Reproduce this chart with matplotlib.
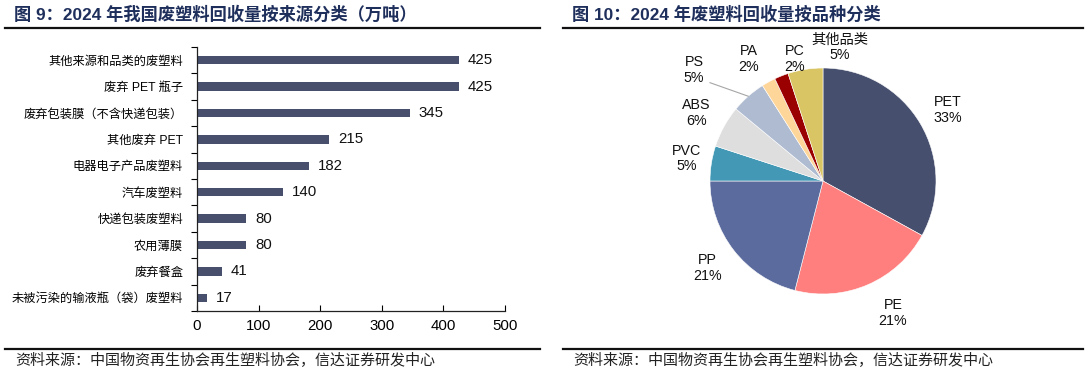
import numpy as np
import matplotlib
matplotlib.use("Agg")
import matplotlib.pyplot as plt
from matplotlib.lines import Line2D

plt.rcParams['font.family'] = ['Liberation Sans', 'Noto Sans CJK SC', 'DejaVu Sans']

# data
sources = ['其他来源和品类的废塑料', '废弃 PET 瓶子', '废弃包装膜（不含快递包装）', '其他废弃 PET',
           '电器电子产品废塑料', '汽车废塑料', '快递包装废塑料', '农用薄膜', '废弃餐盒',
           '未被污染的输液瓶（袋）废塑料']
amounts = [425, 425, 345, 215, 182, 140, 80, 80, 41, 17]

kinds = ['PET', 'PE', 'PP', 'PVC', 'ABS', 'PS', 'PA', 'PC', '其他品类']
shares = [33, 21, 21, 5, 6, 5, 2, 2, 5]
pie_colors = ['#464F6E', '#FF7F7F', '#5B6B9E', '#4298B5', '#DEDEDE', '#AFBBD1',
              '#FFD699', '#9B0000', '#D9C563']
# label anchor positions (pie units, centre = 0,0)
label_pos = [(1.10, 0.63), (0.62, -1.17), (-1.02, -0.77), (-1.21, 0.20), (-1.12, 0.60),
             (-1.14, 0.98), (-0.66, 1.08), (-0.25, 1.08), (0.15, 1.18)]

title_l = '图 9：2024 年我国废塑料回收量按来源分类（万吨）'
title_r = '图 10：2024 年废塑料回收量按品种分类'
source = '资料来源：中国物资再生协会再生塑料协会，信达证券研发中心'

navy = '#1F2F5C'
W, H = 1088, 374
fig = plt.figure(figsize=(W / 100, H / 100), dpi=100)

def fx(px):
    return px / W

def fy(py):
    return 1 - py / H

# headers, rules and source notes
for x0, x1, t in [(5, 540, title_l), (563, 1083, title_r)]:
    fig.text(fx(x0 + 9), fy(14), t, fontsize=12.4, fontweight='bold', color=navy,
             va='center', ha='left')
    fig.add_artist(Line2D([fx(x0), fx(x1)], [fy(27.5), fy(27.5)], color='#111111', lw=1.6))
    fig.add_artist(Line2D([fx(x0), fx(x1)], [fy(349), fy(349)], color='#111111', lw=1.6))
    fig.text(fx(x0 + 10), fy(361), source, fontsize=10.8, color='#222222', va='center',
             ha='left', fontstyle='italic')

# bar chart
ax = fig.add_axes([fx(197), fy(311), fx(505 - 197), (311 - 47) / H])
y = np.arange(len(sources))[::-1]
ax.barh(y, amounts, height=0.32, color='#474F6D')
for yi, v in zip(y, amounts):
    ax.text(v + 14, yi, str(v), va='center', ha='left', fontsize=10.8, color='#111111')
ax.set_xlim(0, 500)
ax.set_ylim(-0.5, len(sources) - 0.5)
ax.set_xticks(np.arange(0, 501, 100))
ax.set_yticks(y)
ax.set_yticklabels(sources, fontsize=8.8)
ax.set_yticks(np.arange(-0.5, len(sources), 1), minor=True)
ax.tick_params(axis='y', which='major', length=0, pad=10)
ax.tick_params(axis='y', which='minor', length=4, direction='out', width=0.8)
ax.tick_params(axis='x', length=4, direction='in', width=0.8, labelsize=10.8, pad=6)
for s in ['top', 'right']:
    ax.spines[s].set_visible(False)
for s in ['left', 'bottom']:
    ax.spines[s].set_linewidth(0.9)
    ax.spines[s].set_color('#222222')

# pie chart
r = 113
pax = fig.add_axes([fx(823 - r), fy(181 + r), fx(2 * r), 2 * r / H])
pax.pie(shares, colors=pie_colors, startangle=90, counterclock=False, radius=1,
        wedgeprops=dict(edgecolor='white', linewidth=0.4))
pax.set_xlim(-1, 1)
pax.set_ylim(-1, 1)
pax.set_aspect('auto')
pax.axis('off')
for name, pct, (lx, ly) in zip(kinds, shares, label_pos):
    pax.text(lx, ly, f'{name}\n{pct}%', ha='center', va='center', fontsize=10.3,
             color='#111111', linespacing=1.15, clip_on=False)
# leader line for PS
ang = np.deg2rad(90 - 3.6 * (sum(shares[:5]) + shares[5] / 2))
pax.plot([np.cos(ang), -1.0], [np.sin(ang), 0.87], color='#A6A6A6', lw=0.8, clip_on=False)

fig.savefig('out.png', dpi=100)
